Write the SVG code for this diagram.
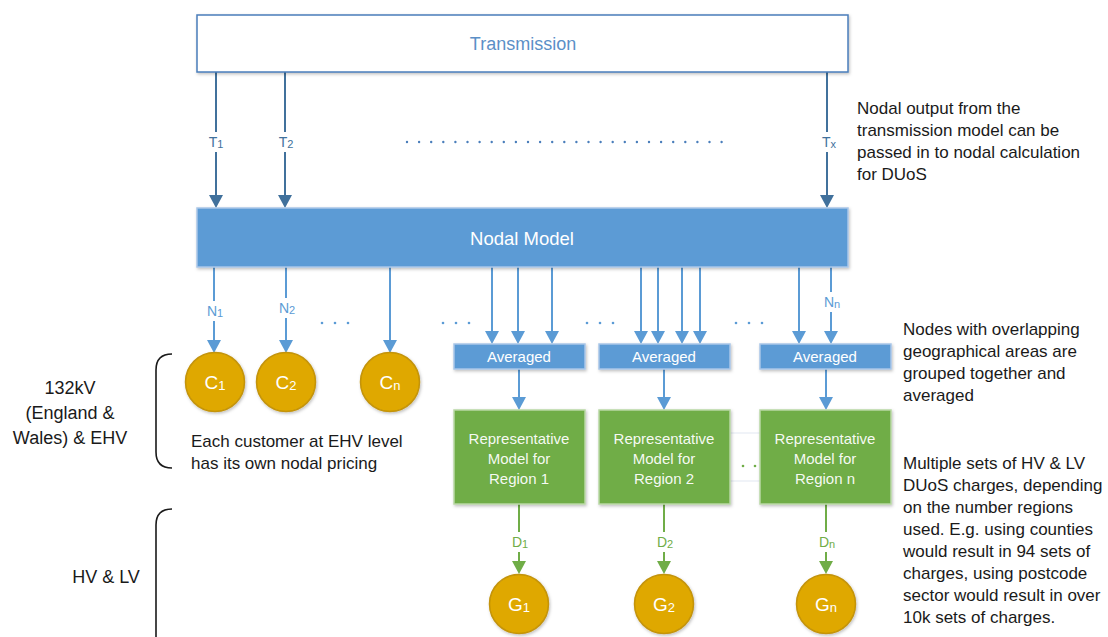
<svg xmlns="http://www.w3.org/2000/svg" width="1108" height="637" viewBox="0 0 1108 637">
<defs>
<style>
text{font-family:"Liberation Sans",Arial,sans-serif}
.note{font-size:17px;fill:#1a1a1a}
.side{font-size:18px;fill:#1a1a1a}
.tline{stroke:#41719c;stroke-width:2;fill:none}
.nline{stroke:#5b9bd5;stroke-width:2;fill:none}
.dline{stroke:#70ad47;stroke-width:2;fill:none}
.blue{fill:#5b9bd5;stroke:#a9c6e8;stroke-width:1.5}
.green{fill:#70ad47;stroke:#b9d7a5;stroke-width:1.5}
.gold{fill:#dfa800;stroke:#c39309;stroke-width:1.5}
.wt{fill:#ffffff;text-anchor:middle}
.lbl{text-anchor:middle;font-size:14px}
.brk{stroke:#1a1a1a;stroke-width:1.6;fill:none}
</style>
<marker id="aT" markerUnits="userSpaceOnUse" markerWidth="14" markerHeight="14" viewBox="0 0 13 14" refX="6" refY="7" orient="auto"><path d="M0,0 L13,7 L0,14 z" fill="#41719c"/></marker>
<marker id="aN" markerUnits="userSpaceOnUse" markerWidth="14" markerHeight="14" viewBox="0 0 13 14" refX="6" refY="7" orient="auto"><path d="M0,0 L13,7 L0,14 z" fill="#5b9bd5"/></marker>
<marker id="aD" markerUnits="userSpaceOnUse" markerWidth="14" markerHeight="14" viewBox="0 0 13 14" refX="6" refY="7" orient="auto"><path d="M0,0 L13,7 L0,14 z" fill="#70ad47"/></marker>
<filter id="sh" x="-10%" y="-10%" width="130%" height="140%"><feDropShadow dx="1" dy="1.5" stdDeviation="1.5" flood-color="#000" flood-opacity="0.25"/></filter>
</defs>
<rect width="1108" height="637" fill="#ffffff"/>

<g id="connectors">
  <!-- T arrows -->
  <line class="tline" x1="216" y1="72" x2="216" y2="201" marker-end="url(#aT)"/>
  <line class="tline" x1="285" y1="72" x2="285" y2="201" marker-end="url(#aT)"/>
  <line class="tline" x1="827" y1="72" x2="827" y2="201" marker-end="url(#aT)"/>
  <line x1="407" y1="142" x2="722" y2="142" stroke="#4a7ebb" stroke-width="2.4" stroke-linecap="round" stroke-dasharray="0 12.1"/>
  <!-- N arrows to C -->
  <line class="nline" x1="214" y1="267" x2="214" y2="346" marker-end="url(#aN)"/>
  <line class="nline" x1="286" y1="267" x2="286" y2="346" marker-end="url(#aN)"/>
  <line class="nline" x1="390" y1="267" x2="390" y2="346" marker-end="url(#aN)"/>
  <!-- N arrows to averaged -->
  <line class="nline" x1="492" y1="267" x2="492" y2="337" marker-end="url(#aN)"/>
  <line class="nline" x1="518" y1="267" x2="518" y2="337" marker-end="url(#aN)"/>
  <line class="nline" x1="552" y1="267" x2="552" y2="337" marker-end="url(#aN)"/>
  <line class="nline" x1="641" y1="267" x2="641" y2="337" marker-end="url(#aN)"/>
  <line class="nline" x1="658" y1="267" x2="658" y2="337" marker-end="url(#aN)"/>
  <line class="nline" x1="682" y1="267" x2="682" y2="337" marker-end="url(#aN)"/>
  <line class="nline" x1="700" y1="267" x2="700" y2="337" marker-end="url(#aN)"/>
  <line class="nline" x1="799" y1="267" x2="799" y2="337" marker-end="url(#aN)"/>
  <line class="nline" x1="831" y1="267" x2="831" y2="337" marker-end="url(#aN)"/>
  <!-- dots -->
  <g fill="#5b9bd5">
    <circle cx="322" cy="323" r="1.3"/><circle cx="335" cy="323" r="1.3"/><circle cx="348" cy="323" r="1.3"/>
    <circle cx="443" cy="323" r="1.3"/><circle cx="456" cy="323" r="1.3"/><circle cx="469" cy="323" r="1.3"/>
    <circle cx="587" cy="323" r="1.3"/><circle cx="600" cy="323" r="1.3"/><circle cx="613" cy="323" r="1.3"/>
    <circle cx="736" cy="323" r="1.3"/><circle cx="749" cy="323" r="1.3"/><circle cx="762" cy="323" r="1.3"/>
  </g>
  <!-- averaged to green -->
  <line class="nline" x1="519" y1="369" x2="519" y2="403" marker-end="url(#aN)"/>
  <line class="nline" x1="664" y1="369" x2="664" y2="403" marker-end="url(#aN)"/>
  <line class="nline" x1="826" y1="369" x2="826" y2="403" marker-end="url(#aN)"/>
  <!-- faint links region 2 to n -->
  <line x1="730" y1="433" x2="760" y2="433" stroke="#e6ecf3" stroke-width="1.2"/>
  <line x1="730" y1="481" x2="760" y2="481" stroke="#e6ecf3" stroke-width="1.2"/>
  <circle cx="743" cy="466" r="1.3" fill="#70ad47"/><circle cx="755" cy="466" r="1.3" fill="#70ad47"/>
  <!-- D arrows -->
  <line class="dline" x1="519" y1="504" x2="519" y2="567" marker-end="url(#aD)"/>
  <line class="dline" x1="664" y1="504" x2="664" y2="567" marker-end="url(#aD)"/>
  <line class="dline" x1="826" y1="504" x2="826" y2="567" marker-end="url(#aD)"/>
  <!-- labels -->
  <g class="lbl" fill="#41719c">
    <rect x="206" y="132" width="22" height="20" fill="#fff"/>
    <text x="216" y="147">T<tspan font-size="11" dy="1">1</tspan></text>
    <rect x="275" y="132" width="22" height="20" fill="#fff"/>
    <text x="286" y="147">T<tspan font-size="11" dy="1">2</tspan></text>
    <rect x="817" y="132" width="22" height="20" fill="#fff"/>
    <text x="829" y="147">T<tspan font-size="11" dy="1">x</tspan></text>
  </g>
  <g class="lbl" fill="#5b9bd5">
    <rect x="203" y="301" width="22" height="20" fill="#fff"/>
    <text x="215" y="316">N<tspan font-size="11" dy="1">1</tspan></text>
    <rect x="275" y="298" width="22" height="20" fill="#fff"/>
    <text x="287" y="313">N<tspan font-size="11" dy="1">2</tspan></text>
    <rect x="820" y="292" width="22" height="20" fill="#fff"/>
    <text x="832" y="307">N<tspan font-size="11" dy="1">n</tspan></text>
  </g>
  <g class="lbl" fill="#70ad47">
    <rect x="507" y="532" width="24" height="20" fill="#fff"/>
    <text x="520" y="547">D<tspan font-size="11" dy="1">1</tspan></text>
    <rect x="652" y="532" width="24" height="20" fill="#fff"/>
    <text x="665" y="547">D<tspan font-size="11" dy="1">2</tspan></text>
    <rect x="814" y="532" width="24" height="20" fill="#fff"/>
    <text x="827" y="547">D<tspan font-size="11" dy="1">n</tspan></text>
  </g>
</g>

<g id="transmission">
  <rect x="197" y="15" width="651" height="57" fill="#ffffff" stroke="#4a7ebb" stroke-width="1.5" filter="url(#sh)"/>
  <text x="523" y="50" text-anchor="middle" font-size="18" fill="#5b8fc7">Transmission</text>
</g>

<g id="nodal-model">
  <rect x="197" y="208" width="651" height="59" class="blue" filter="url(#sh)"/>
  <text x="522" y="245" class="wt" font-size="18.5">Nodal Model</text>
</g>

<g id="averaged-1"><rect x="454" y="344" width="131" height="25" class="blue" filter="url(#sh)"/><text x="519" y="362" class="wt" font-size="15">Averaged</text></g>
<g id="averaged-2"><rect x="599" y="344" width="131" height="25" class="blue" filter="url(#sh)"/><text x="664" y="362" class="wt" font-size="15">Averaged</text></g>
<g id="averaged-n"><rect x="760" y="344" width="131" height="25" class="blue" filter="url(#sh)"/><text x="825" y="362" class="wt" font-size="15">Averaged</text></g>

<g id="region-1"><rect x="454" y="410" width="131" height="94" class="green" filter="url(#sh)"/>
  <text class="wt" font-size="15" fill-opacity="0.95"><tspan x="519" y="444">Representative</tspan><tspan x="519" y="464">Model for</tspan><tspan x="519" y="484">Region 1</tspan></text></g>
<g id="region-2"><rect x="599" y="410" width="131" height="94" class="green" filter="url(#sh)"/>
  <text class="wt" font-size="15" fill-opacity="0.95"><tspan x="664" y="444">Representative</tspan><tspan x="664" y="464">Model for</tspan><tspan x="664" y="484">Region 2</tspan></text></g>
<g id="region-n"><rect x="760" y="410" width="131" height="94" class="green" filter="url(#sh)"/>
  <text class="wt" font-size="15" fill-opacity="0.95"><tspan x="825" y="444">Representative</tspan><tspan x="825" y="464">Model for</tspan><tspan x="825" y="484">Region n</tspan></text></g>

<g id="c1"><circle cx="215" cy="382" r="29.5" class="gold" filter="url(#sh)"/><text x="215" y="389" class="wt" font-size="19">C<tspan font-size="13" dy="1">1</tspan></text></g>
<g id="c2"><circle cx="286" cy="382" r="29.5" class="gold" filter="url(#sh)"/><text x="286" y="389" class="wt" font-size="19">C<tspan font-size="13" dy="1">2</tspan></text></g>
<g id="cn"><circle cx="390" cy="382" r="29.5" class="gold" filter="url(#sh)"/><text x="390" y="389" class="wt" font-size="19">C<tspan font-size="13" dy="1">n</tspan></text></g>

<g id="g1"><circle cx="519" cy="604" r="29.5" class="gold" filter="url(#sh)"/><text x="519" y="611" class="wt" font-size="19">G<tspan font-size="13" dy="1">1</tspan></text></g>
<g id="g2"><circle cx="664" cy="604" r="29.5" class="gold" filter="url(#sh)"/><text x="664" y="611" class="wt" font-size="19">G<tspan font-size="13" dy="1">2</tspan></text></g>
<g id="gn"><circle cx="826" cy="604" r="29.5" class="gold" filter="url(#sh)"/><text x="826" y="611" class="wt" font-size="19">G<tspan font-size="13" dy="1">n</tspan></text></g>

<g id="bracket-ehv"><path class="brk" d="M172,354 Q156,354 156,370 L156,452 Q156,468 172,468"/></g>
<g id="bracket-hvlv"><path class="brk" d="M172,509 Q156,509 156,525 L156,640"/></g>

<g id="labels-left">
  <text class="side" text-anchor="middle"><tspan x="70" y="394">132kV</tspan><tspan x="70" y="419">(England &amp;</tspan><tspan x="70" y="444">Wales) &amp; EHV</tspan></text>
  <text class="side" x="106" y="583" text-anchor="middle">HV &amp; LV</text>
  <text class="note"><tspan x="191" y="447">Each customer at EHV level</tspan><tspan x="191" y="469">has its own nodal pricing</tspan></text>
</g>

<g id="notes-right">
  <text class="note"><tspan x="857" y="114">Nodal output from the</tspan><tspan x="857" y="136">transmission model can be</tspan><tspan x="857" y="158">passed in to nodal calculation</tspan><tspan x="857" y="180">for DUoS</tspan></text>
  <text class="note"><tspan x="903" y="335">Nodes with overlapping</tspan><tspan x="903" y="357">geographical areas are</tspan><tspan x="903" y="379">grouped together and</tspan><tspan x="903" y="401">averaged</tspan></text>
  <text class="note"><tspan x="903" y="469">Multiple sets of HV &amp; LV</tspan><tspan x="903" y="491">DUoS charges, depending</tspan><tspan x="903" y="513">on the number regions</tspan><tspan x="903" y="535">used. E.g. using counties</tspan><tspan x="903" y="557">would result in 94 sets of</tspan><tspan x="903" y="579">charges, using postcode</tspan><tspan x="903" y="601">sector would result in over</tspan><tspan x="903" y="623">10k sets of charges.</tspan></text>
</g>
</svg>
